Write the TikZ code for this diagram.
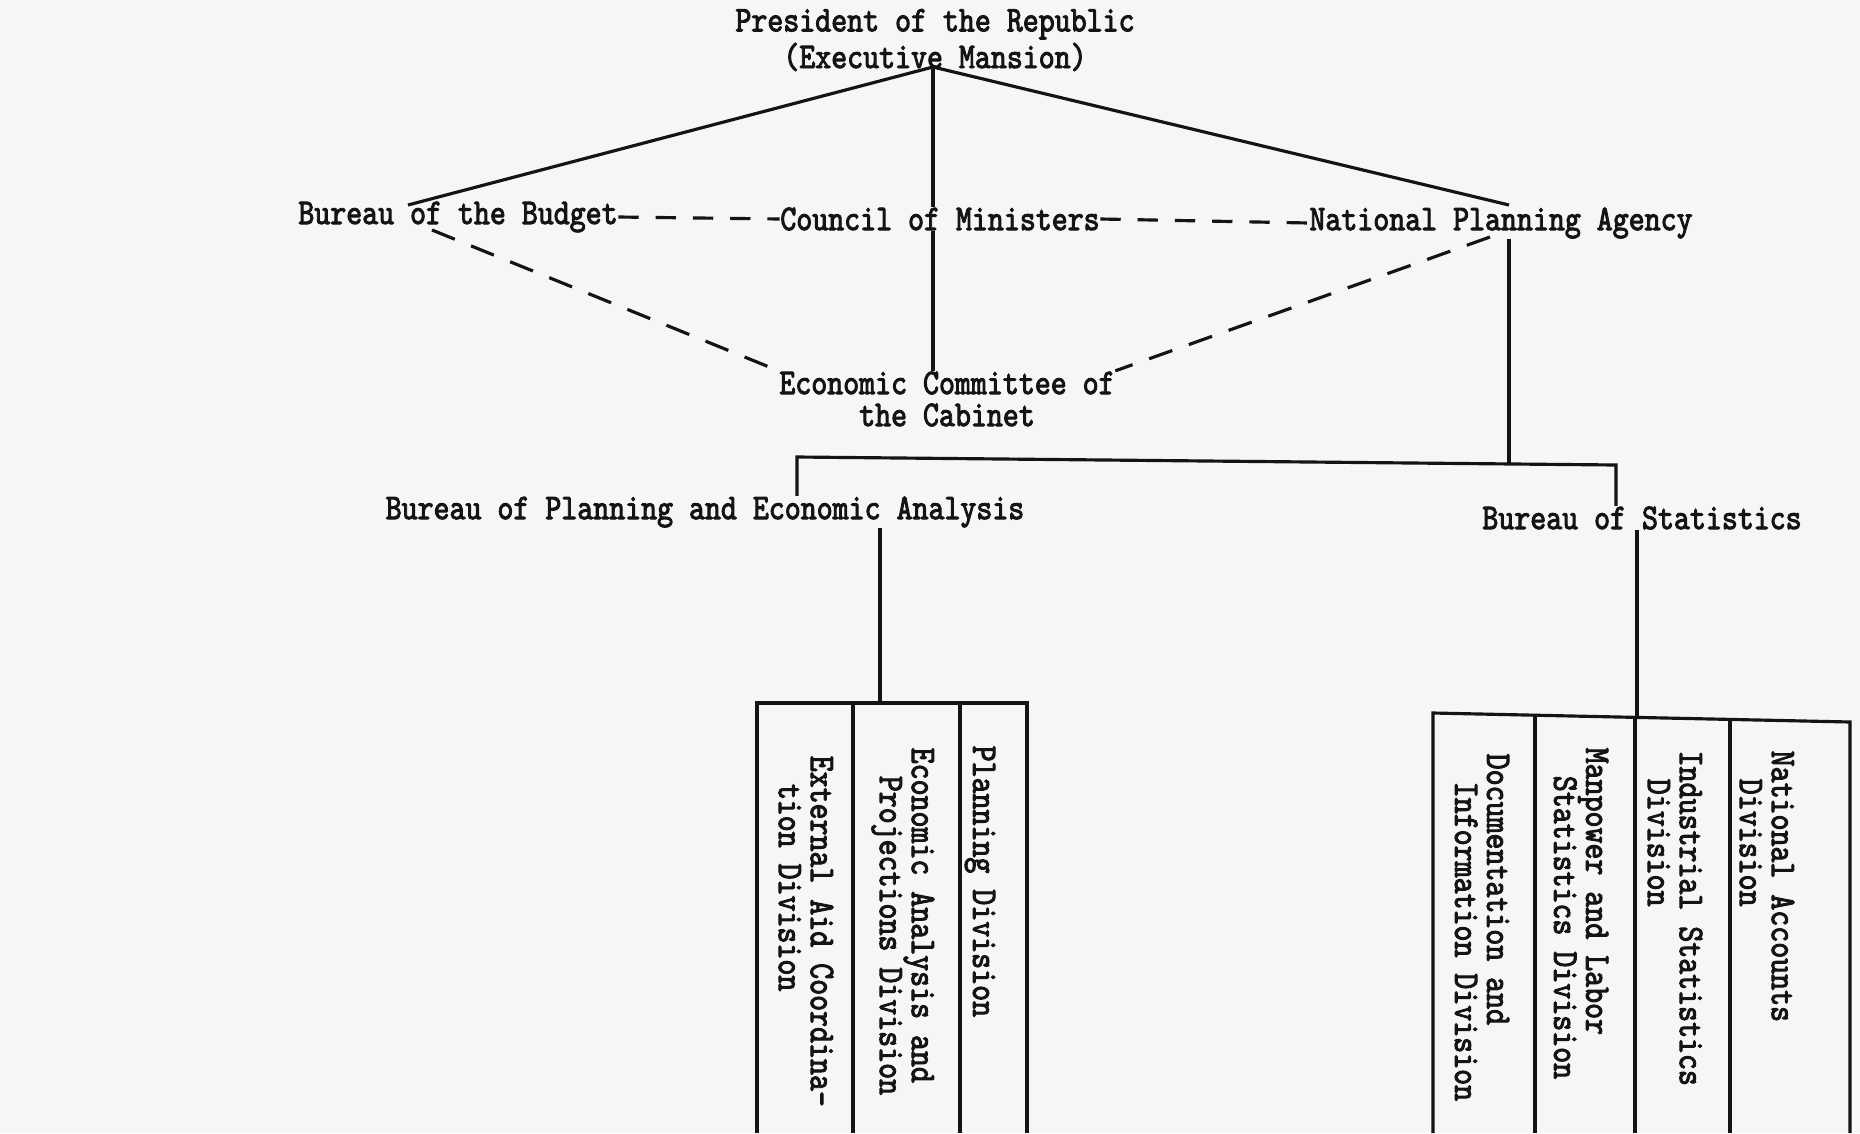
\documentclass[tikz,border=0pt]{standalone}
\usepackage{fontspec}
\usepackage{xcolor}
\usepackage{tikz}
\newfontfamily\typer{lmmono10-regular}[Extension=.otf,FakeBold=2.6,FakeStretch=0.84]
\definecolor{paper}{RGB}{246,246,248}
\definecolor{ink}{RGB}{20,20,20}

\begin{document}
\begin{tikzpicture}[x=0.1mm, y=-0.1mm,
	every node/.style={inner sep=0pt, text=ink, font=\typer\fontsize{10.3}{9.1}\selectfont},
	link/.style={draw=ink, line width=0.9pt},
	tie/.style={link, dash pattern=on 5.8pt off 4.8pt},
	slant/.style={link, dash pattern=on 7pt off 5pt},
	division/.style={rotate=-90, anchor=west, align=left}]
	\path[use as bounding box, fill=paper] (0,0) rectangle (1860,1133);
	% top
	\node[align=center] (pres) at (935,40) {President of the Republic\\(Executive Mansion)};
	\coordinate (apex) at (933,67);
	% middle row
	\node (budget) at (458,217) {Bureau of the Budget};
	\node (council) at (940,219) {Council of Ministers};
	\node (npa) at (1501,223) {National Planning Agency};
	\node[align=center] (ecc) at (947,399) {Economic Committee of\\the Cabinet};
	\coordinate (budtop) at (408,205);
	\coordinate (npatop) at (1509,205);
	\coordinate (budfoot) at (432,230);
	\coordinate (npafoot) at (1490,237);
	\draw[link] (budtop) -- (apex) -- (npatop);
	\draw[link] (apex) -- (apex |- council.north);
	\draw[link] (apex |- council.south) -- (apex |- ecc.north);
	\draw[tie] (budget.east) -- (council.west);
	\draw[tie] (council.east) -- (npa.west);
	\draw[slant] (budfoot) -- (ecc.north west);
	\draw[slant] (npafoot) -- (ecc.north east);
	% bureaus
	\node (bpea) at (705,512) {Bureau of Planning and Economic Analysis};
	\node (bstat) at (1642,518) {Bureau of Statistics};
	\coordinate (barl) at (797,457);
	\coordinate (barr) at (1616,465);
	\coordinate (hub) at (1509,464);
	\draw[link] (npatop |- npa.south) -- (hub);
	\draw[link] (bpea.north -| barl) -- (barl) -- (barr) -- (bstat.north -| barr);
	% divisions
	\coordinate (lefttop) at (880,703);
	\coordinate (righttop) at (1637,717);
	\draw[link] (bpea.south -| lefttop) -- (lefttop);
	\draw[link] (bstat.south -| righttop) -- (righttop);
	\draw[link] (757,1133) -- (757,703) -- (1027,703) -- (1027,1133);
	\foreach \x in {853,960}
		\draw[link] (\x,703) -- (\x,1133);
	\draw[link] (1433,1133) -- (1433,713) -- (1850,722) -- (1850,1133);
	\foreach \x/\y in {1535/715,1635/717,1730/719}
		\draw[link] (\x,\y) -- (\x,1133);
	\node[division] (plan) at (980,745) {Planning Division};
	\node[division] (eapd) at (903,747) {Economic Analysis and\\\hspace*{8pt}Projections Division};
	\node[division] (ead) at (806,755) {External Aid Coordina-\\\hspace*{8pt}tion Division};
	\node[division] (did) at (1482,753) {Documentation and\\\hspace*{8pt}Information Division};
	\node[division] (mlsd) at (1581,747) {Manpower and Labor\\\hspace*{8pt}Statistics Division};
	\node[division] (isd) at (1675,750) {Industrial Statistics\\\hspace*{8pt}Division};
	\node[division] (nad) at (1767,750) {National Accounts\\\hspace*{8pt}Division};
\end{tikzpicture}
\end{document}
